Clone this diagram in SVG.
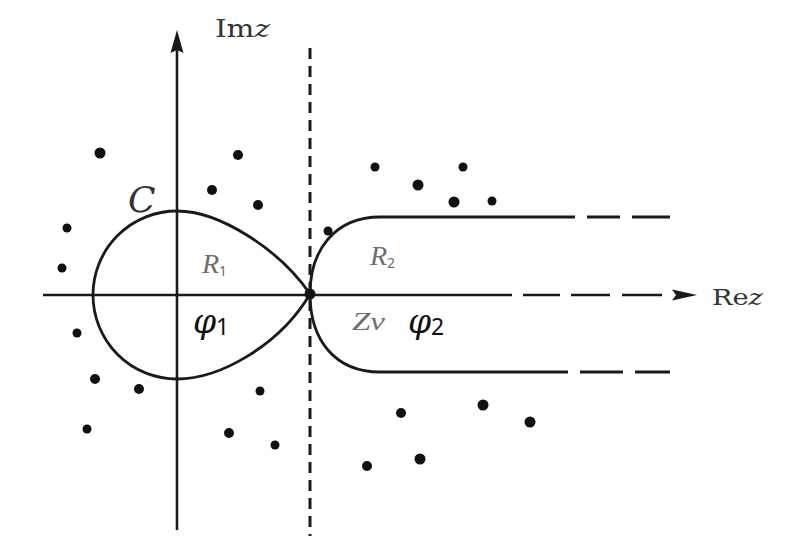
<svg xmlns="http://www.w3.org/2000/svg" width="798" height="547" viewBox="0 0 798 547">
<style>
.ax{stroke:#1a1a1a;stroke-width:2.6;fill:none}
.cv{stroke:#1a1a1a;stroke-width:2.8;fill:none}
.dot{fill:#111}
.lbl{font-family:"DejaVu Serif","Liberation Serif",serif;fill:#333}
.gr{font-family:"Liberation Serif","DejaVu Serif",serif;font-style:italic;fill:#6e6e6e}
.phi{font-family:"DejaVu Serif","Liberation Serif",serif;fill:#111}
.sub{font-family:"Noto Sans","DejaVu Sans",sans-serif;font-style:normal}
</style>
<rect width="798" height="547" fill="#fff"/>
<g id="axes">
  <line class="ax" x1="177" y1="48" x2="177" y2="530"/>
  <polygon points="177,30 183.5,53 177,50 170.5,53" fill="#1a1a1a"/>
  <line class="ax" x1="43" y1="295" x2="512" y2="295"/>
  <path class="ax" d="M523,295 H560 M571,295 H610 M622,295 H662"/>
  <polygon points="697,295 672,289.5 676,295 672,300.5" fill="#1a1a1a"/>
  <line x1="310" y1="48" x2="310" y2="536" stroke="#1a1a1a" stroke-width="3" stroke-dasharray="11 7"/>
</g>
<g id="connectors">
  <path id="loop" class="cv" d="M310,294 C280,250 220,211 177,211 A84,84 0 0 0 93,295 A84,84 0 0 0 177,379 C220,379 280,345 310,294"/>
  <path id="upper" class="cv" d="M310,294 C310,250 335,217 380,217 H575"/>
  <path class="cv" d="M587,217 H620 M632,217 H670"/>
  <path id="lower" class="cv" d="M310,294 C310,340 335,372 380,372 H568"/>
  <path class="cv" d="M580,372 H623 M635,372 H670"/>
</g>
<g id="zv-point"><circle cx="310" cy="294" r="5.5" class="dot"/></g>
<g id="poles">
  <circle class="dot" cx="100" cy="153" r="5.5"/>
  <circle class="dot" cx="238" cy="155" r="5"/>
  <circle class="dot" cx="212" cy="190" r="5"/>
  <circle class="dot" cx="258" cy="205" r="5"/>
  <circle class="dot" cx="67" cy="228" r="4.5"/>
  <circle class="dot" cx="62" cy="268" r="4.5"/>
  <circle class="dot" cx="77" cy="333" r="4.5"/>
  <circle class="dot" cx="95" cy="379" r="5"/>
  <circle class="dot" cx="139" cy="389" r="5"/>
  <circle class="dot" cx="87" cy="429" r="4.5"/>
  <circle class="dot" cx="260" cy="391" r="4.5"/>
  <circle class="dot" cx="229" cy="433" r="5"/>
  <circle class="dot" cx="275" cy="445" r="4.5"/>
  <circle class="dot" cx="328" cy="231" r="4.5"/>
  <circle class="dot" cx="375" cy="167" r="4.5"/>
  <circle class="dot" cx="418" cy="185" r="5.5"/>
  <circle class="dot" cx="463" cy="167" r="4.5"/>
  <circle class="dot" cx="454" cy="202" r="5.5"/>
  <circle class="dot" cx="492" cy="201" r="4.5"/>
  <circle class="dot" cx="401" cy="413" r="5"/>
  <circle class="dot" cx="483" cy="405" r="5.5"/>
  <circle class="dot" cx="530" cy="422" r="5.5"/>
  <circle class="dot" cx="367" cy="466" r="5"/>
  <circle class="dot" cx="420" cy="459" r="5.5"/>
</g>
<g id="labels">
  <text class="lbl" x="215" y="37" font-size="25" textLength="55" lengthAdjust="spacingAndGlyphs">Im<tspan font-style="italic">z</tspan></text>
  <text class="lbl" x="712" y="305" font-size="23" textLength="51" lengthAdjust="spacingAndGlyphs">Re<tspan font-style="italic">z</tspan></text>
  <text class="lbl" x="128" y="212" font-size="36" font-style="italic" fill="#111">C</text>
  <text class="gr" x="202" y="273" font-size="28">R<tspan class="sub" font-size="14" dy="3">1</tspan></text>
  <text class="gr" x="370" y="265" font-size="28">R<tspan class="sub" font-size="14" dy="3">2</tspan></text>
  <text class="gr" x="352" y="330" font-size="25" textLength="33" lengthAdjust="spacingAndGlyphs">Zv</text>
  <text class="phi" x="193" y="333" font-size="33" font-style="italic">φ<tspan class="sub" font-size="23" dy="2">1</tspan></text>
  <text class="phi" x="408" y="333" font-size="33" font-style="italic">φ<tspan class="sub" font-size="23" dy="2">2</tspan></text>
</g>
</svg>
